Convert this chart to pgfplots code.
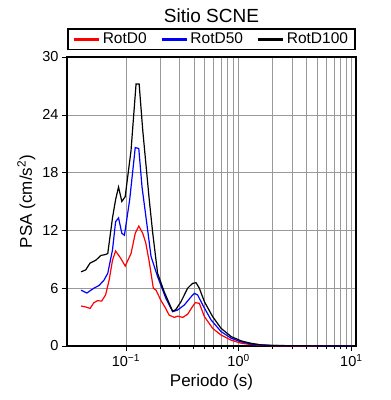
\documentclass[border=0pt]{standalone}
\usepackage{fontspec}
\setmainfont{Liberation Sans}
\usepackage{pgfplots}
\pgfplotsset{compat=1.18}
\usetikzlibrary{calc}
\begin{document}
\begin{tikzpicture}
\begin{axis}[
  name=ax,
  xmode=log,
  width=289pt, height=289pt, scale only axis,
  xmin=0.03, xmax=11, ymin=0, ymax=30,
  ytick={0,6,12,18,24,30},
  xtick={0.1,1,10},
  xticklabels={10\textsuperscript{−1},10\textsuperscript{0},10\textsuperscript{1}},
  /pgf/number format/assume math mode=true,
  tick label style={font=\fontsize{14.5}{17}\selectfont},
  label style={font=\fontsize{17}{20}\selectfont},
  xlabel={Periodo (s)},
  ylabel={PSA (cm/s\textsuperscript{2})},
  title={Sitio SCNE},
  title style={font=\fontsize{19}{22}\selectfont, yshift=25pt},
  axis line style={line width=1.4pt},
  tick align=outside,
  major tick length=5pt, minor tick length=3pt,
  every tick/.style={black, line width=0.6pt},
  xmajorgrids, xminorgrids, ymajorgrids,
  major grid style={gray!80, line width=0.5pt},
  minor grid style={gray!80, line width=0.5pt},
  xtick pos=bottom, ytick pos=left,
  legend columns=3,
  legend style={at={(0.5,1)}, anchor=south, yshift=7pt, draw=black, line width=1.3pt,
    font=\fontsize{15.5}{18}\selectfont, inner xsep=5pt, inner ysep=2pt,
    /tikz/every even column/.append style={column sep=12pt}},
  legend image code/.code={\draw[line width=2.8pt,#1] (0pt,0pt) -- (25pt,0pt);},
  legend cell align=left,
  clip=true,
]
\addplot[red, line width=1.2pt] coordinates {
(0.040,4.15) (0.044,4.05) (0.048,3.9) (0.052,4.5) (0.056,4.7) (0.061,4.67) (0.066,5.3) (0.071,6.85) (0.076,8.9) (0.081,9.86) (0.090,9.1) (0.0985,8.3) (0.111,9.6) (0.121,11.7) (0.130,12.45) (0.141,11.7) (0.150,10.7) (0.161,8.75) (0.175,6.0) (0.185,5.8) (0.205,4.7) (0.223,4.0) (0.242,3.2) (0.269,2.97) (0.288,3.1) (0.319,2.97) (0.353,3.3) (0.39,4.1) (0.413,4.5) (0.448,4.43) (0.497,3.05) (0.588,1.84) (0.698,1.14) (0.86,0.6) (1.06,0.28) (1.29,0.15) (1.58,0.08) (2,0.03) (3,0.01) (10,0)
};
\addlegendentry{RotD0}
\addplot[blue, line width=1.2pt] coordinates {
(0.040,5.8) (0.045,5.5) (0.049,5.8) (0.052,6.0) (0.058,6.3) (0.064,6.85) (0.069,7.55) (0.076,9.97) (0.081,12.9) (0.086,13.3) (0.092,11.7) (0.097,11.5) (0.108,15.2) (0.121,20.6) (0.130,20.5) (0.139,16.5) (0.156,12.0) (0.167,9.3) (0.191,7.2) (0.227,4.9) (0.26,3.56) (0.288,3.74) (0.33,4.26) (0.378,5.1) (0.405,5.47) (0.433,5.3) (0.48,4.26) (0.57,2.7) (0.698,1.5) (0.86,0.8) (1.06,0.42) (1.29,0.2) (1.58,0.1) (2,0.05) (3,0.02) (5,0.01) (10,0)
};
\addlegendentry{RotD50}
\addplot[black, line width=1.2pt] coordinates {
(0.040,7.7) (0.044,7.9) (0.048,8.6) (0.054,8.9) (0.060,9.4) (0.066,9.5) (0.069,9.6) (0.076,13.3) (0.081,15.2) (0.086,16.5) (0.092,15.0) (0.0985,15.5) (0.111,20.3) (0.123,27.2) (0.131,27.2) (0.141,22.4) (0.161,15.2) (0.173,11.7) (0.191,7.55) (0.219,5.6) (0.26,3.6) (0.278,3.8) (0.308,4.6) (0.353,6.0) (0.39,6.5) (0.419,6.57) (0.448,6.0) (0.497,4.6) (0.588,3.05) (0.698,1.84) (0.86,0.97) (1.06,0.52) (1.29,0.28) (1.58,0.12) (2,0.06) (3,0.03) (5,0.01) (10,0)
};
\addlegendentry{RotD100}
\end{axis}
\path ($(ax.south west)+(-67pt,-54pt)$) rectangle ($(ax.north east)+(35pt,57pt)$);
\end{tikzpicture}
\end{document}
